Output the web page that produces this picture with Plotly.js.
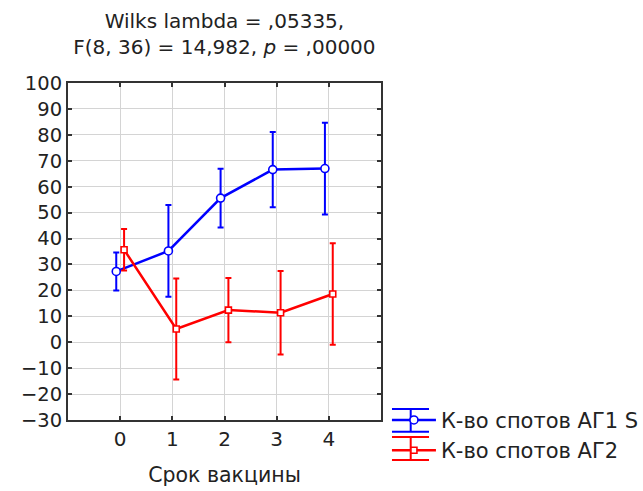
<!DOCTYPE html>
<html>
<head>
<meta charset="utf-8">
<script src="https://cdn.plot.ly/plotly-3.0.1.min.js"></script>
<style>html,body{margin:0;padding:0;background:#fff;}#chart{width:643px;height:491px;}</style>
</head>
<body>
<div id="chart"></div>
<script>
// Data
const categories = [0, 1, 2, 3, 4];
const seriesNames = ["К-во спотов АГ1 S", "К-во спотов АГ2"];
const ag1Mean = [27.3, 35.2, 55.6, 66.6, 67.0];
const ag1Err  = [7.3, 17.7, 11.3, 14.5, 17.7];
const ag2Mean = [35.7, 5.1, 12.4, 11.4, 18.6];
const ag2Err  = [8.0, 19.5, 12.4, 16.1, 19.6];
const xTickLabels = ["0", "1", "2", "3", "4"];
const seriesColors = ["#0000ff", "#ff0000"];

const FONT = "DejaVu Sans, Arial, sans-serif";
const shift = 0.075; // small horizontal dodge between the two series

const traces = [
  {
    x: categories.map(c => c - shift),
    y: ag1Mean,
    name: seriesNames[0],
    type: "scatter",
    mode: "lines+markers",
    line: {color: seriesColors[0], width: 2.5},
    marker: {symbol: "circle", size: 8, color: "#ffffff", line: {color: seriesColors[0], width: 1.6}},
    error_y: {type: "data", array: ag1Err, visible: true, color: seriesColors[0], thickness: 2, width: 3}
  },
  {
    x: categories.map(c => c + shift),
    y: ag2Mean,
    name: seriesNames[1],
    type: "scatter",
    mode: "lines+markers",
    line: {color: seriesColors[1], width: 2.5},
    marker: {symbol: "square", size: 6, color: "#ffffff", line: {color: seriesColors[1], width: 1.6}},
    error_y: {type: "data", array: ag2Err, visible: true, color: seriesColors[1], thickness: 2, width: 3}
  }
];

// legend glyph decoration (error-bar style caps around the legend line)
function legendGlyph(color, yTop, yBot) {
  const xl = 1.0351, xr = 1.1534, xm = 1.0949;
  const base = {type: "line", xref: "paper", yref: "paper", line: {color: color, width: 2}, layer: "above"};
  return [
    Object.assign({}, base, {x0: xl, x1: xr, y0: yTop, y1: yTop}),
    Object.assign({}, base, {x0: xl, x1: xr, y0: yBot, y1: yBot}),
    Object.assign({}, base, {x0: xm, x1: xm, y0: yTop, y1: yBot})
  ];
}

const layout = {
  width: 643,
  height: 491,
  margin: {l: 68, r: 262, t: 83, b: 71, autoexpand: false},
  paper_bgcolor: "#ffffff",
  plot_bgcolor: "#ffffff",
  font: {family: FONT, color: "#222222", size: 20},
  title: {
    text: "Wilks lambda = ,05335,<br>F(8, 36) = 14,982, <i>p</i> = ,00000",
    font: {family: FONT, size: 20, color: "#222222"},
    x: 0.349, xanchor: "center",
    y: 0.942, yanchor: "middle"
  },
  xaxis: {
    range: [-1, 5],
    tickmode: "array",
    tickvals: categories,
    ticktext: xTickLabels,
    showgrid: true,
    gridcolor: "#d4d4d4",
    gridwidth: 1,
    zeroline: false,
    showline: true,
    linecolor: "#333333",
    linewidth: 2,
    mirror: "ticks",
    ticks: "inside",
    ticklen: 4,
    tickwidth: 2,
    tickcolor: "#333333",
    tickfont: {family: FONT, size: 20, color: "#222222"},
    automargin: false,
    title: {text: "Срок вакцины", font: {family: FONT, size: 20.5, color: "#222222"}, standoff: 18}
  },
  yaxis: {
    range: [-30, 100],
    dtick: 10,
    tick0: 0,
    showgrid: true,
    gridcolor: "#d4d4d4",
    gridwidth: 1,
    zeroline: false,
    showline: true,
    linecolor: "#333333",
    linewidth: 2,
    mirror: "ticks",
    ticks: "inside",
    ticklen: 4,
    tickwidth: 2,
    tickcolor: "#333333",
    automargin: false,
    tickfont: {family: FONT, size: 19.5, color: "#222222"}
  },
  showlegend: true,
  legend: {
    x: 1.019, xanchor: "left",
    y: 0.06, yanchor: "top",
    font: {family: FONT, size: 21, color: "#222222"},
    bgcolor: "rgba(0,0,0,0)",
    borderwidth: 0,
    tracegroupgap: 0,
    itemwidth: 44
  },
  shapes: [].concat(
    legendGlyph(seriesColors[0], 0.0326, -0.0347),
    legendGlyph(seriesColors[1], -0.0504, -0.1187)
  )
};

Plotly.newPlot("chart", traces, layout, {staticPlot: true, displayModeBar: false});
</script>
</body>
</html>
